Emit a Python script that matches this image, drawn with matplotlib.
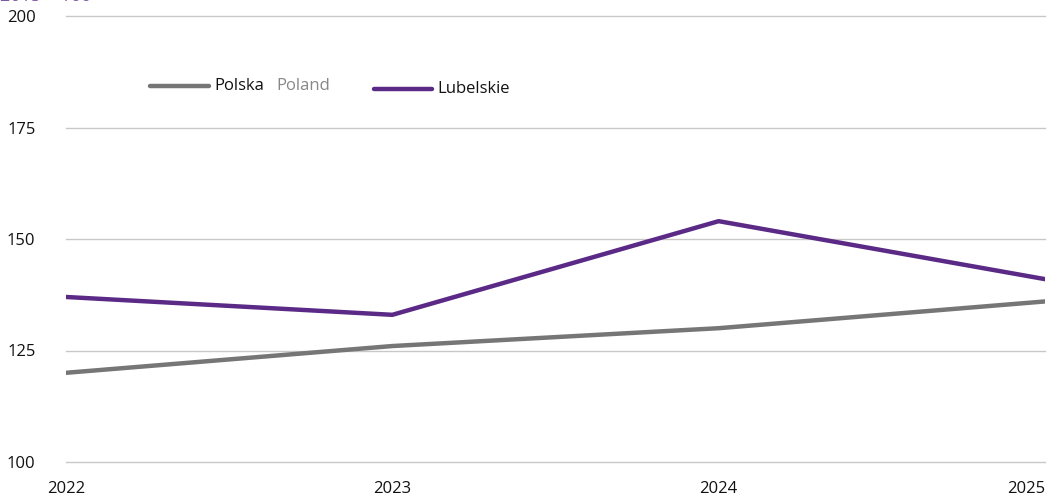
import matplotlib
matplotlib.use("Agg")
import matplotlib.pyplot as plt
from matplotlib.lines import Line2D

# data (index 2015=100)
years = [2022, 2023, 2024, 2025]
polska = [120, 126, 130, 136]
lubelskie = [137, 133, 154, 141]
y_ticks = [100, 125, 150, 175, 200]

GRAY = "#767676"
PURPLE = "#5a2a86"

plt.rcParams['font.family'] = ['Open Sans', 'DejaVu Sans']

W, H = 1055, 499
fig = plt.figure(figsize=(W / 100, H / 100), dpi=100)
ax = fig.add_axes([66 / W, (H - 462) / H, (1045 - 66) / W, (462 - 16) / H])

ax.plot(years, polska, color=GRAY, lw=3.2, solid_capstyle="round", zorder=3)
ax.plot(years, lubelskie, color=PURPLE, lw=3.2, solid_capstyle="round", zorder=3)

ax.set_xlim(years[0], years[-1])
ax.set_ylim(100, 200)
ax.set_xticks(years)
ax.set_xticklabels([str(y) for y in years])
ax.set_yticks(y_ticks)
ax.grid(axis="y", color="#c8c8c8", lw=1, clip_on=False)
ax.set_axisbelow(True)
for s in ax.spines.values():
    s.set_visible(False)
ax.tick_params(axis="both", length=0, labelsize=12, colors="#111111")
ax.tick_params(axis="y", pad=22)
ax.tick_params(axis="x", pad=14)
# last year label would run off the right edge
ax.get_xticklabels()[-1].set_horizontalalignment("right")
ax.get_xticklabels()[-1].set_x(years[-1] + 0.02)

# legend drawn by hand to keep the two-language label
fig.add_artist(Line2D([150 / W, 209 / W], [1 - 86 / H] * 2, color=GRAY, lw=3.2,
                      solid_capstyle="round"))
fig.text(214 / W, 1 - 86 / H, "Polska", fontsize=12, va="center", color="#111111")
fig.text(276 / W, 1 - 86 / H, "Poland", fontsize=12, va="center", color="#888888")
fig.add_artist(Line2D([374 / W, 432 / W], [1 - 89 / H] * 2, color=PURPLE, lw=3.2,
                      solid_capstyle="round"))
fig.text(437 / W, 1 - 89 / H, "Lubelskie", fontsize=12, va="center", color="#111111")

# unit label, mostly cut off at the top edge in the original
fig.text(0 / W, 1 - 5 / H, "2015 = 100", fontsize=13, color="#7a5aa0", va="bottom")

fig.savefig("out.png", dpi=100)
